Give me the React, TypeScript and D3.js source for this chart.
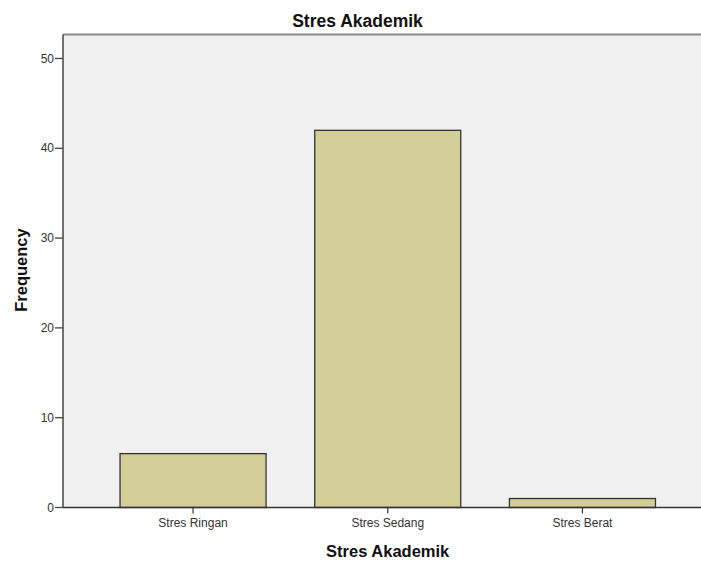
import React from "react";
import * as d3 from "d3";

const categories = ["Stres Ringan", "Stres Sedang", "Stres Berat"];
const frequencies = [6, 42, 1];
const yTicks = [0, 10, 20, 30, 40, 50];
const chartTitle = "Stres Akademik";
const xTitle = "Stres Akademik";
const yTitle = "Frequency";

const W = 701;
const H = 561;
const plotLeft = 63;
const plotTop = 34.5;
const plotBottom = 507.5;
const plotRight = 701;

export default function App() {
  const y = d3.scaleLinear().domain([0, 52.67]).range([plotBottom, plotTop]);
  const x = d3
    .scaleBand<string>()
    .domain(categories)
    .range([95.7, 679.8])
    .paddingInner(0.25)
    .paddingOuter(0.125);
  const font = "'Liberation Sans', Arial, sans-serif";

  return (
    <svg
      width={W}
      height={H}
      style={{ position: "absolute", left: 0, top: 0, background: "#fff" }}
      fontFamily={font}
    >
      <rect
        x={plotLeft}
        y={plotTop}
        width={plotRight - plotLeft}
        height={plotBottom - plotTop}
        fill="#F0F0F0"
      />
      <line x1={plotLeft} x2={plotRight} y1={plotTop} y2={plotTop} stroke="#8a8a8a" strokeWidth={2} />
      {categories.map((c, i) => (
        <rect
          key={c}
          x={x(c)}
          y={y(frequencies[i])}
          width={x.bandwidth()}
          height={plotBottom - y(frequencies[i])}
          fill="#D3CE97"
          stroke="#333"
          strokeWidth={1.3}
        />
      ))}
      <line x1={plotLeft} x2={plotLeft} y1={plotTop} y2={plotBottom} stroke="#444" strokeWidth={1.5} />
      <line x1={plotLeft} x2={plotRight} y1={plotBottom} y2={plotBottom} stroke="#333" strokeWidth={1.5} />
      {yTicks.map((t) => (
        <g key={t}>
          <line x1={plotLeft - 8} x2={plotLeft} y1={y(t)} y2={y(t)} stroke="#444" strokeWidth={1.3} />
          <text
            x={plotLeft - 9}
            y={y(t)}
            dy="0.35em"
            textAnchor="end"
            fontSize={12}
            fill="#333"
          >
            {t}
          </text>
        </g>
      ))}
      {categories.map((c) => {
        const cx = (x(c) as number) + x.bandwidth() / 2;
        return (
          <g key={c}>
            <line x1={cx} x2={cx} y1={plotBottom} y2={plotBottom + 6} stroke="#333" strokeWidth={1.2} />
            <text x={cx} y={plotBottom + 19.5} textAnchor="middle" fontSize={12} fill="#333">
              {c}
            </text>
          </g>
        );
      })}
      <text x={357.5} y={26.5} textAnchor="middle" fontSize={17.5} fontWeight="bold" fill="#111">
        {chartTitle}
      </text>
      <text x={387.7} y={557} textAnchor="middle" fontSize={16.5} fontWeight="bold" fill="#111">
        {xTitle}
      </text>
      <text
        transform={`translate(26.5,270) rotate(-90)`}
        textAnchor="middle"
        fontSize={16.5}
        fontWeight="bold"
        fill="#111"
      >
        {yTitle}
      </text>
    </svg>
  );
}
